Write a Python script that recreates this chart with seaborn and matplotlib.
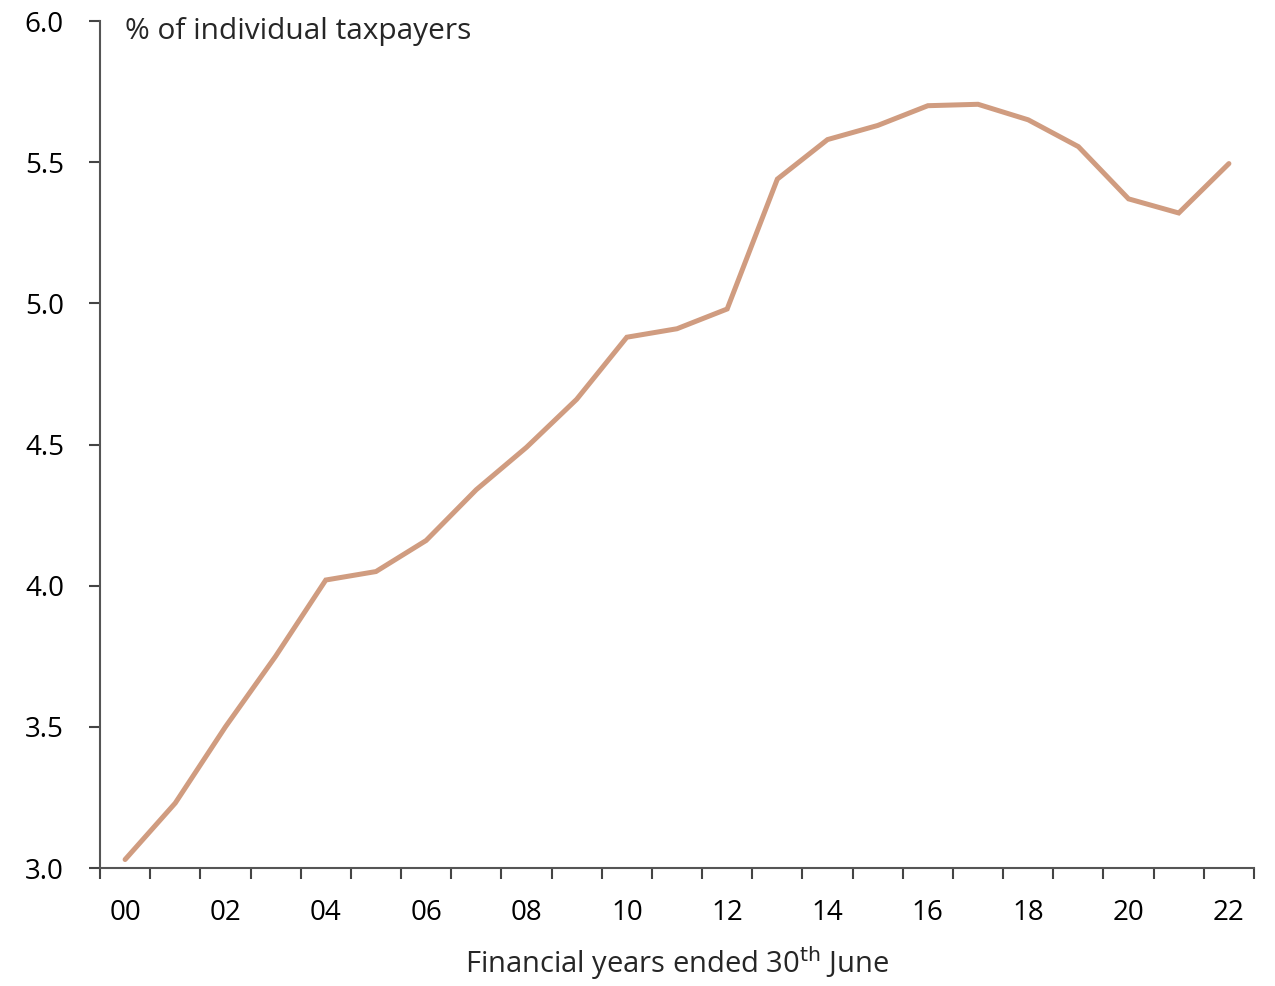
import matplotlib
matplotlib.use("Agg")
import matplotlib.pyplot as plt
import seaborn as sns
import pandas as pd
import numpy as np

years = list(range(0, 23))
tick_labels = ["00", "02", "04", "06", "08", "10", "12", "14", "16", "18", "20", "22"]
share = [3.03, 3.23, 3.50, 3.75, 4.02, 4.05, 4.16, 4.34, 4.49, 4.66, 4.88, 4.91,
         4.98, 5.44, 5.58, 5.63, 5.70, 5.705, 5.65, 5.555, 5.37, 5.32, 5.495]

sns.set_theme(style="white")
plt.rcParams['font.family'] = ['Open Sans', 'DejaVu Sans']

df = pd.DataFrame({"year": years, "share": share})

fig = plt.figure(figsize=(12.75, 9.86), dpi=100)
ax = fig.add_axes([100/1275, 1 - 868/986, (1254-100)/1275, (868-21)/986])

sns.lineplot(data=df, x="year", y="share", ax=ax, color="#D09C80", linewidth=3.6,
             solid_capstyle="round", solid_joinstyle="miter")

ax.set_xlim(-0.5, 22.5)
ax.set_ylim(3.0, 6.0)
ax.set_yticks([3.0, 3.5, 4.0, 4.5, 5.0, 5.5, 6.0])
ax.set_yticklabels([f"{v:.1f}" for v in [3.0, 3.5, 4.0, 4.5, 5.0, 5.5, 6.0]])
ax.set_xticks(np.arange(0, 23, 2))
ax.set_xticklabels(tick_labels)
ax.set_xticks(np.arange(-0.5, 23, 1), minor=True)

for s in ["top", "right"]:
    ax.spines[s].set_visible(False)
for s in ["left", "bottom"]:
    ax.spines[s].set_color("#555555")
    ax.spines[s].set_linewidth(1.5)

ax.tick_params(axis="x", which="major", length=0, pad=22, labelsize=20, colors="black")
ax.tick_params(axis="x", which="minor", bottom=True, length=8, width=1.5, color="#444444")
ax.tick_params(axis="y", which="major", left=True, length=8, width=1.5, color="#444444",
               labelsize=20, pad=18, labelcolor="black")

ax.set_xlabel("Financial years ended 30$^{\\mathrm{th}}$ June", fontsize=21, labelpad=13)
ax.set_ylabel("")
ax.text(0.022, 1.005, "% of individual taxpayers", transform=ax.transAxes,
        fontsize=21.5, va="top", ha="left")

fig.savefig("out.png", dpi=100)
